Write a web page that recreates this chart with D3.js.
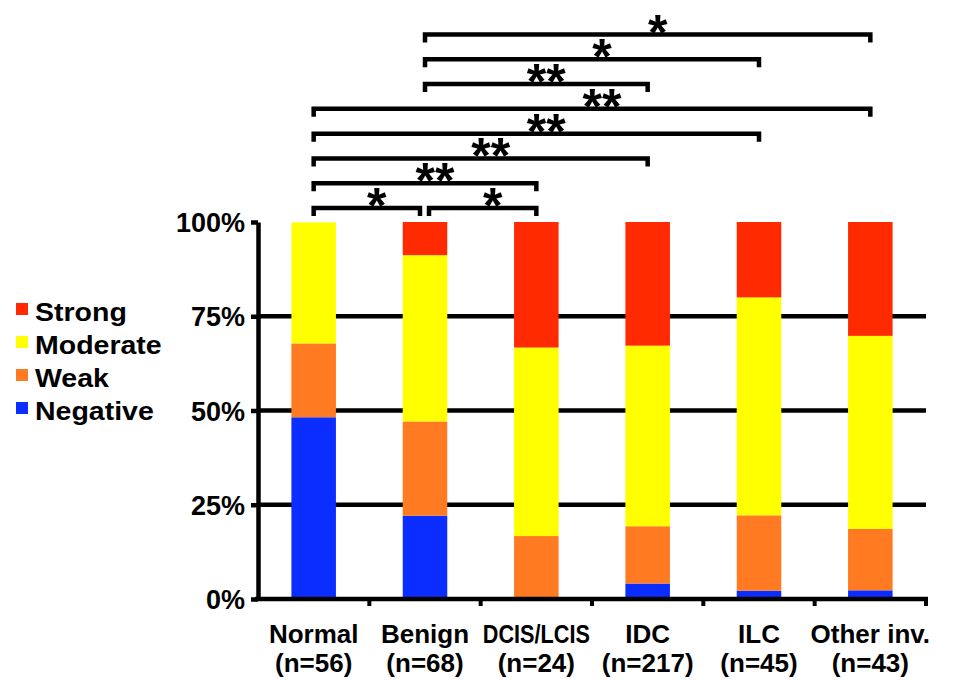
<!DOCTYPE html>
<html>
<head>
<meta charset="utf-8">
<script src="https://cdn.jsdelivr.net/npm/d3@7"></script>
<style>
  body { margin: 0; background: #fff; }
  text { font-family: "Liberation Sans", Arial, Helvetica, sans-serif; font-weight: bold; fill: #000; }
</style>
</head>
<body>
<svg id="chart" width="953" height="683"></svg>
<script>
// categories and group sizes
var categories = ["Normal", "Benign", "DCIS/LCIS", "IDC", "ILC", "Other inv."];
var sampleSizes = [56, 68, 24, 217, 45, 43];

// percent of cases per staining level (bottom to top)
var negative = [48.2, 22.1, 0, 4.1, 2.2, 2.3];
var weak = [19.6, 25.0, 16.7, 15.2, 20.0, 16.3];
var moderate = [32.1, 44.1, 50.0, 47.9, 57.8, 51.2];
var strong = [0, 8.8, 33.3, 32.8, 20.0, 30.2];

var seriesNames = ["Negative", "Weak", "Moderate", "Strong"];
var seriesColors = ["#0b2dff", "#ff7a20", "#ffff00", "#ff2a00"];
var yTicks = [0, 25, 50, 75, 100];

// significance brackets: from, to, stars, row (0 = top)
var brackets = [
  ["Benign", "Other inv.", "*", 0],
  ["Benign", "ILC", "*", 1],
  ["Benign", "IDC", "**", 2],
  ["Normal", "Other inv.", "**", 3],
  ["Normal", "ILC", "**", 4],
  ["Normal", "IDC", "**", 5],
  ["Normal", "DCIS/LCIS", "**", 6],
  ["Normal", "Benign", "*", 7],
  ["Benign", "DCIS/LCIS", "*", 7]
];

var svg = d3.select("#chart");

var x = d3.scaleBand()
  .domain(categories)
  .range([258, 926])
  .paddingInner(0.6)
  .paddingOuter(0.3);
var step = x.step();

var y = d3.scaleLinear().domain([0, 100]).range([599, 222]);

// build the table for d3.stack
var table = categories.map(function(c, i) {
  return { cat: c, Negative: negative[i], Weak: weak[i], Moderate: moderate[i], Strong: strong[i] };
});
var stacked = d3.stack().keys(seriesNames)(table);

// gridlines at 25/50/75
svg.append("g").selectAll("line")
  .data(yTicks.filter(function(d) { return d > 0 && d < 100; }))
  .enter().append("line")
  .attr("x1", 258).attr("x2", 926)
  .attr("y1", function(d) { return y(d); })
  .attr("y2", function(d) { return y(d); })
  .attr("stroke", "#000").attr("stroke-width", 4.5);

// bars
svg.append("g").selectAll("g")
  .data(stacked)
  .enter().append("g")
  .attr("fill", function(d, i) { return seriesColors[i]; })
  .selectAll("rect")
  .data(function(d) { return d; })
  .enter().append("rect")
  .attr("x", function(d) { return x(d.data.cat); })
  .attr("width", x.bandwidth())
  .attr("y", function(d) { return y(d[1]); })
  .attr("height", function(d) { return y(d[0]) - y(d[1]); });

// y axis
var yAxis = d3.axisLeft(y)
  .tickValues(yTicks)
  .tickFormat(function(d) { return d + "%"; })
  .tickSize(7)
  .tickSizeOuter(0)
  .tickPadding(6);
var yg = svg.append("g").attr("transform", "translate(258,0)").call(yAxis);
yg.selectAll("path, line").attr("stroke", "#000").attr("stroke-width", 4.5);
yg.selectAll("text")
  .style("font-size", "27px")
  .attr("fill", "#000")
  .attr("dy", "0.36em");

// x axis line + ticks at band boundaries
svg.append("line")
  .attr("x1", 255).attr("x2", 928)
  .attr("y1", y(0)).attr("y2", y(0))
  .attr("stroke", "#000").attr("stroke-width", 4.5);
svg.append("g").selectAll("line")
  .data(d3.range(1, categories.length + 1))
  .enter().append("line")
  .attr("x1", function(i) { return 258 + i * step; })
  .attr("x2", function(i) { return 258 + i * step; })
  .attr("y1", y(0)).attr("y2", y(0) + 7)
  .attr("stroke", "#000").attr("stroke-width", 4);

// category labels, two lines each
var labels = svg.append("g").selectAll("text")
  .data(categories)
  .enter().append("text")
  .attr("text-anchor", "middle")
  .style("font-size", "26px");
labels.append("tspan")
  .attr("x", function(d) { return x(d) + x.bandwidth() / 2; })
  .attr("y", 643)
  .text(function(d) { return d; })
  .each(function() {
    // DCIS/LCIS is squeezed in the original
    if (this.getComputedTextLength() > 122) {
      d3.select(this).attr("textLength", 107).attr("lengthAdjust", "spacingAndGlyphs");
    }
  });
labels.append("tspan")
  .attr("x", function(d) { return x(d) + x.bandwidth() / 2; })
  .attr("y", 672)
  .text(function(d, i) { return "(n=" + sampleSizes[i] + ")"; });

// legend
var legendOrder = [3, 2, 1, 0];
var lg = svg.append("g").selectAll("g")
  .data(legendOrder)
  .enter().append("g")
  .attr("transform", function(d, i) { return "translate(16," + (321 + i * 33) + ")"; });
lg.append("rect")
  .attr("x", 0).attr("y", -18).attr("width", 12).attr("height", 12)
  .attr("fill", function(d) { return seriesColors[d]; });
lg.append("text")
  .attr("transform", "translate(19,0) scale(1.14,1)")
  .style("font-size", "25px")
  .text(function(d) { return seriesNames[d]; });

// significance brackets
var rowY = d3.scaleLinear().domain([0, 7]).range([34.5, 208]);
var mid = function(c) { return x(c) + x.bandwidth() / 2; };
var bg = svg.append("g");
brackets.forEach(function(b) {
  var x1 = mid(b[0]), x2 = mid(b[1]), yy = rowY(b[3]);
  brackets.forEach(function(o) {
    if (o !== b && o[3] === b[3]) {
      if (o[1] === b[0]) x1 += 4;
      if (o[0] === b[1]) x2 -= 5;
    }
  });
  bg.append("path")
    .attr("d", "M" + x1 + "," + (yy + 8) + "V" + yy + "H" + x2 + "V" + (yy + 8))
    .attr("fill", "none")
    .attr("stroke", "#000")
    .attr("stroke-width", 4.5);
  bg.append("text")
    .attr("text-anchor", "middle")
    .attr("x", (x1 + x2) / 2 + 10)
    .attr("y", yy + 15)
    .style("font-size", "50px")
    .text(b[2]);
});
</script>
</body>
</html>
